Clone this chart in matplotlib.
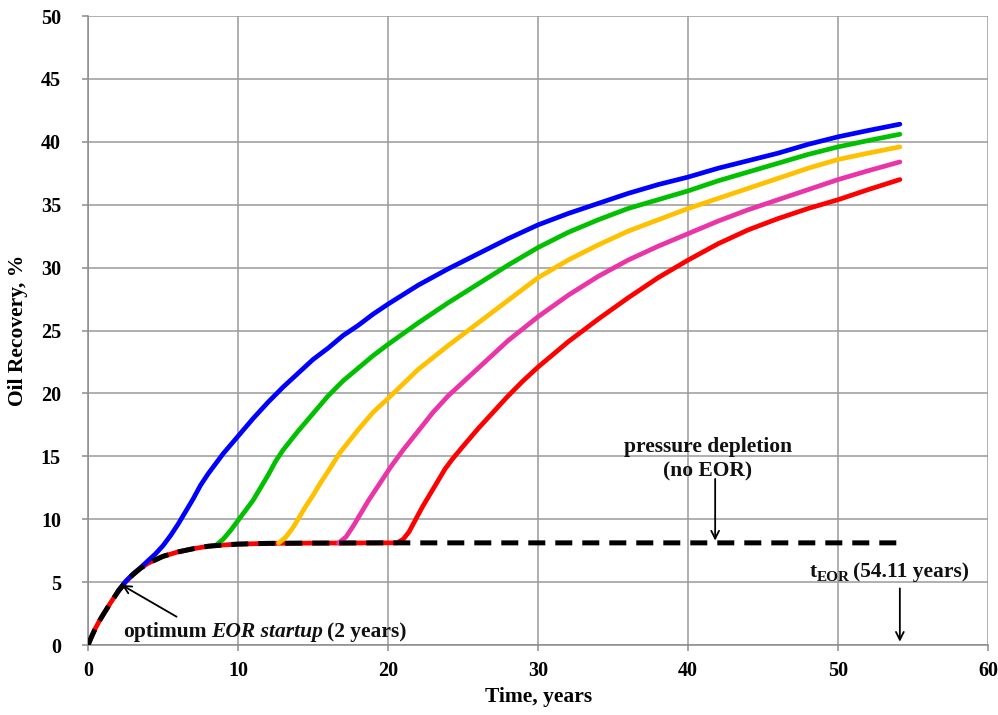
import matplotlib
matplotlib.use("Agg")
import matplotlib.pyplot as plt
from matplotlib.transforms import IdentityTransform

plt.rcParams["font.family"] = ["Liberation Serif", "DejaVu Serif"]
plt.rcParams["font.weight"] = "bold"

# pressure depletion (no EOR) baseline
t_base = [0, 0.25, 0.5, 0.75, 1, 1.5, 2, 2.5, 3, 3.5, 4, 5, 6, 7, 8, 9, 10, 12, 15, 20, 30, 40, 54.11]
r_base = [0, 0.7, 1.35, 1.9, 2.4, 3.35, 4.25, 5.0, 5.6, 6.1, 6.5, 7.05, 7.4, 7.65, 7.85, 7.95, 8.02, 8.08,
          8.1, 8.12, 8.12, 8.12, 8.12]

# EOR cases, each starting from its switch-over point on the depletion curve
t_blue = [2, 2.5, 3, 3.5, 4, 4.5, 5, 5.5, 6, 6.5, 7, 7.5, 8, 8.5, 9, 9.5, 10, 11, 12, 13, 14, 15, 16, 17, 18,
          19, 20, 22, 24, 26, 28, 30, 32, 34, 36, 38, 40, 42, 44, 46, 48, 50, 52, 54.11]
r_blue = [4.3, 5.05, 5.65, 6.15, 6.7, 7.25, 7.9, 8.7, 9.6, 10.6, 11.6, 12.7, 13.6, 14.4, 15.2, 15.9, 16.6,
          18.0, 19.3, 20.5, 21.6, 22.7, 23.6, 24.6, 25.4, 26.3, 27.1, 28.6, 29.9, 31.1, 32.3, 33.4, 34.3,
          35.1, 35.9, 36.6, 37.2, 37.9, 38.5, 39.1, 39.8, 40.4, 40.9, 41.4]

t_green = [8.5, 9, 9.5, 10, 10.5, 11, 11.5, 12, 12.5, 13, 14, 15, 16, 17, 18, 19, 20, 22, 24, 26, 28, 30, 32,
           34, 36, 38, 40, 42, 44, 46, 48, 50, 52, 54.11]
r_green = [7.9, 8.4, 9.1, 9.9, 10.7, 11.5, 12.5, 13.5, 14.6, 15.5, 17.0, 18.4, 19.8, 21.0, 22.0, 23.0,
           23.9, 25.6, 27.2, 28.7, 30.2, 31.6, 32.8, 33.8, 34.7, 35.4, 36.1, 36.9, 37.6, 38.3, 39.0, 39.6,
           40.1, 40.6]

t_yellow = [12.7, 13.2, 13.7, 14.1, 14.5, 15, 15.5, 16, 16.8, 18, 19, 20, 22, 24, 26, 28, 30, 32, 34, 36, 38,
            40, 42, 44, 46, 48, 50, 52, 54.11]
r_yellow = [8.1, 8.6, 9.4, 10.2, 11.0, 11.9, 12.9, 13.8, 15.3, 17.1, 18.5, 19.6, 21.9, 23.8, 25.6, 27.4,
            29.2, 30.6, 31.8, 32.9, 33.8, 34.7, 35.5, 36.3, 37.1, 37.9, 38.6, 39.1, 39.6]

t_magenta = [16.7, 17.2, 17.7, 18.2, 18.7, 19.2, 19.7, 20.2, 21, 22, 23, 24, 25, 26, 28, 30, 32, 34, 36, 38,
             40, 42, 44, 46, 48, 50, 52, 54.11]
r_magenta = [8.1, 8.6, 9.5, 10.5, 11.5, 12.4, 13.3, 14.2, 15.5, 17.0, 18.5, 19.8, 20.9, 22.0, 24.2, 26.1,
             27.8, 29.3, 30.6, 31.7, 32.7, 33.7, 34.6, 35.4, 36.2, 37.0, 37.7, 38.4]

t_red = t_base[:20] + [20.6, 21.0, 21.4, 21.8, 22.3, 22.8, 23.3, 23.8, 24.3, 25, 26, 27, 28, 29, 30, 32, 34,
                       36, 38, 40, 42, 44, 46, 48, 50, 52, 54.11]
r_red = r_base[:20] + [8.12, 8.4, 9.0, 9.9, 11.0, 12.0, 13.0, 14.0, 14.8, 15.8, 17.2, 18.5, 19.8, 21.0, 22.1,
                       24.1, 25.9, 27.6, 29.2, 30.6, 31.9, 33.0, 33.9, 34.7, 35.4, 36.2, 37.0]

x_ticks = [0, 10, 20, 30, 40, 50, 60]
y_ticks = list(range(0, 51, 5))
t_optimum, r_optimum = 2.25, 4.77
t_eor = 54.11

fig = plt.figure(figsize=(9.98, 7.15), dpi=100)
ax = fig.add_axes([0.0882, 0.0979, 0.902, 0.8797])

lw = 3.4
ax.plot(t_red, r_red, color="#ff0000", lw=lw, solid_capstyle="round", zorder=3)
ax.plot(t_magenta, r_magenta, color="#e935a8", lw=lw, solid_capstyle="round", zorder=3)
ax.plot(t_yellow, r_yellow, color="#ffc000", lw=lw, solid_capstyle="round", zorder=3)
ax.plot(t_green, r_green, color="#00c000", lw=lw, solid_capstyle="round", zorder=3)
ax.plot(t_blue, r_blue, color="#0000ff", lw=lw, solid_capstyle="round", zorder=3)
ax.plot(t_base, r_base, color="black", lw=3.6, dashes=(3.4, 2.0), dash_capstyle="butt", zorder=4)

ax.set_xlim(0, 60)
ax.set_ylim(0, 50)
ax.set_xticks(x_ticks)
ax.set_yticks(y_ticks)
ax.grid(True, color="#9a9a9a", lw=1.1)
ax.set_axisbelow(True)
for side in ("top", "right"):
    ax.spines[side].set_visible(False)
for side in ("left", "bottom"):
    ax.spines[side].set_color("#8c8c8c")
    ax.spines[side].set_linewidth(1.1)
ax.tick_params(axis="both", colors="#8c8c8c", length=4.5, width=1.1, labelsize=14.5,
               labelcolor="black")
ax.tick_params(axis="x", pad=7)
ax.tick_params(axis="y", pad=15)
for lab in ax.get_xticklabels() + ax.get_yticklabels():
    lab.set_fontweight("bold")

ax.set_xlabel("Time, years", fontsize=15.5, fontweight="bold", labelpad=4)
ax.set_ylabel("Oil Recovery, %", fontsize=15.5, fontweight="bold")
ax.yaxis.set_label_coords(-0.067, 0.5)

txt = dict(fontsize=15.5, fontweight="bold", color="#111111")
arrow = dict(arrowstyle="->", color="black", lw=1.3, mutation_scale=14, shrinkA=0, shrinkB=0)

# optimum EOR startup arrow and mixed-style label
ax.annotate("", xy=(t_optimum, r_optimum), xytext=(5.9, 2.25), arrowprops=arrow, zorder=5)

fig.canvas.draw()
renderer = fig.canvas.get_renderer()


def text_run(x, y, pieces):
    """Place consecutive text pieces on one baseline, starting at data point (x, y)."""
    px, py = ax.transData.transform((x, y))
    for s, kw, dy, gap in pieces:
        t = ax.text(px, py + dy, s, transform=IdentityTransform(), va="baseline", ha="left", **kw)
        px = t.get_window_extent(renderer).x1 + gap


italic = dict(txt, fontstyle="italic")
text_run(2.31, 0.66, [("optimum", txt, 0, 5), ("EOR startup", italic, 0, 4), ("(2 years)", txt, 0, 0)])

# pressure depletion label and arrow
ax.text(41.3, 15.37, "pressure depletion", ha="center", va="baseline", **txt)
ax.text(41.3, 13.38, "(no EOR)", ha="center", va="baseline", **txt)
ax.annotate("", xy=(41.8, 8.3), xytext=(41.8, 13.2), arrowprops=arrow, zorder=5)

# EOR time label and arrow
sub = dict(txt, fontsize=11)
text_run(48.13, 5.43, [("t", txt, 0, 0), ("EOR", sub, -4, 3), ("(54.11 years)", txt, 0, 0)])
ax.annotate("", xy=(t_eor, 0.26), xytext=(t_eor, 4.5), arrowprops=arrow, zorder=5)

fig.savefig("out.png", dpi=100)
